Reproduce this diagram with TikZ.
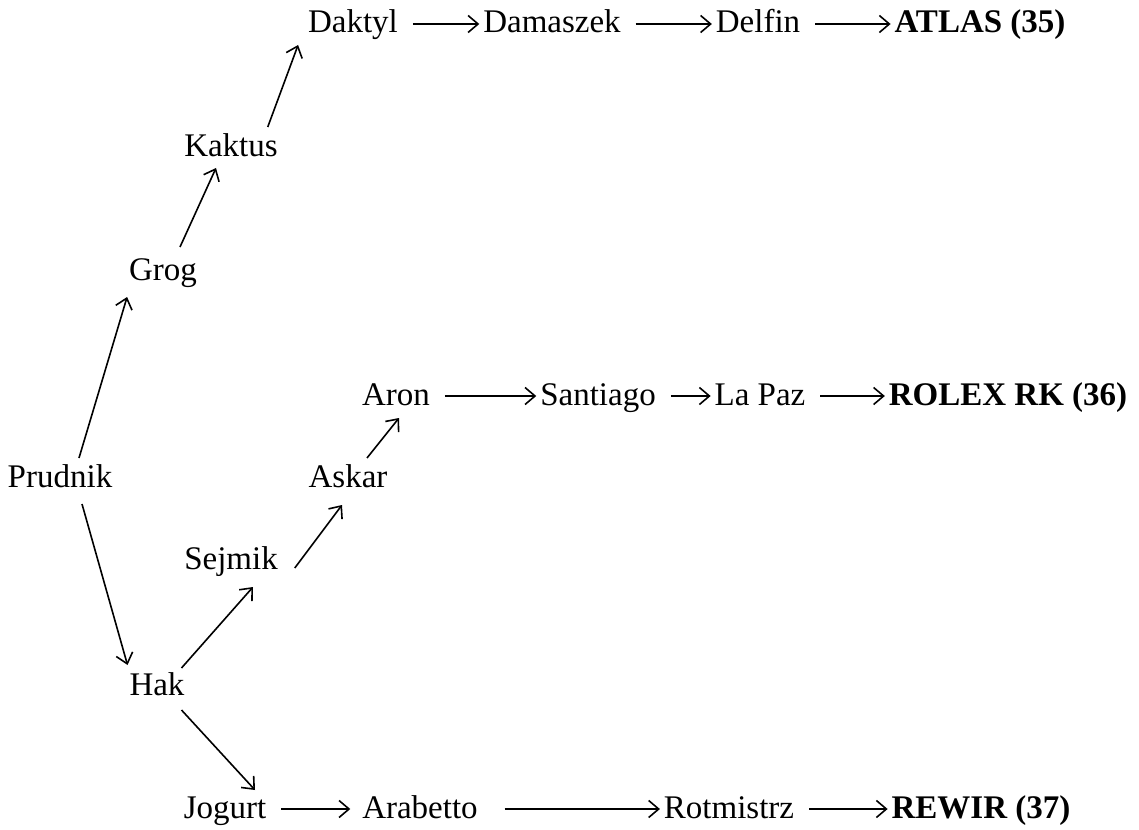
\documentclass[tikz,border=0pt]{standalone}
\usepackage{fontspec}
\setmainfont{Liberation Serif}
\usetikzlibrary{arrows.meta}
\begin{document}
\begin{tikzpicture}[x=1pt,y=-1pt,
  lbl/.style={anchor=base,inner xsep=2pt,inner ysep=2pt,outer sep=0pt,text height=24pt,text depth=6pt,font=\fontsize{33}{40}\selectfont},
  fin/.style={lbl,font=\fontsize{33}{40}\selectfont\bfseries},
  arr/.style={-{Straight Barb[length=10pt,width=17pt,line width=1.6pt]},line width=1.6pt},
  harr/.style={arr,shorten <=13pt,shorten >=2pt}]
\useasboundingbox (0,0) rectangle (1139,829);
% top row
\node[lbl] (daktyl) at (353,33) {Daktyl};
\node[lbl] (damaszek) at (552,33) {Damaszek};
\node[lbl] (delfin) at (758,33) {Delfin};
\node[fin] (atlas) at (980,33) {ATLAS (35)};
% left branch
\node[lbl] (kaktus) at (231,157) {Kaktus};
\node[lbl] (grog) at (163,280) {Grog};
\node[lbl] (prudnik) at (60,487) {Prudnik};
% middle row
\node[lbl] (aron) at (396,405) {Aron};
\node[lbl] (santiago) at (598,405) {Santiago};
\node[lbl] (lapaz) at (760,405) {La Paz};
\node[fin] (rolex) at (1008,405) {ROLEX RK (36)};
\node[lbl] (askar) at (348,487) {Askar};
\node[lbl] (sejmik) at (231,569) {Sejmik};
\node[lbl] (hak) at (157,695) {Hak};
% bottom row
\node[lbl] (jogurt) at (225,818) {Jogurt};
\node[lbl] (arabetto) at (420,818) {Arabetto};
\node[lbl] (rotmistrz) at (729,818) {Rotmistrz};
\node[fin] (rewir) at (981,818) {REWIR (37)};
% horizontal arrows
\draw[harr] (daktyl) -- (damaszek);
\draw[harr] (damaszek) -- (delfin);
\draw[harr] (delfin) -- (atlas);
\draw[harr] (aron) -- (santiago);
\draw[harr] (santiago) -- (lapaz);
\draw[harr] (lapaz) -- (rolex);
\draw[harr,shorten >=10pt] (jogurt) -- (arabetto);
\draw[harr,shorten <=25pt] (arabetto) -- (rotmistrz);
\draw[harr] (rotmistrz) -- (rewir);
% diagonal arrows
\draw[arr] ([xshift=19pt,yshift=3pt]prudnik.north) -- ([yshift=-9pt]grog.south west);
\draw[arr] ([xshift=17pt,yshift=7pt]grog.north) -- ([xshift=-15pt,yshift=-3pt]kaktus.south);
\draw[arr] ([xshift=-12pt,yshift=4pt]kaktus.north east) -- ([xshift=-8pt,yshift=-4pt]daktyl.south west);
\draw[arr] ([xshift=22pt,yshift=-9pt]prudnik.south) -- ([yshift=4pt]hak.north west);
\draw[arr] ([xshift=-5pt,yshift=1pt]hak.north east) -- ([xshift=22pt,yshift=-10pt]sejmik.south);
\draw[arr] ([xshift=15pt,yshift=-8pt]sejmik.east) -- ([xshift=-6pt,yshift=-10pt]askar.south);
\draw[arr] ([xshift=19pt,yshift=3pt]askar.north) -- ([xshift=3pt,yshift=-5pt]aron.south);
\draw[arr] ([xshift=-5pt,yshift=-7pt]hak.south east) -- ([xshift=30pt,yshift=2pt]jogurt.north);
\end{tikzpicture}
\end{document}
